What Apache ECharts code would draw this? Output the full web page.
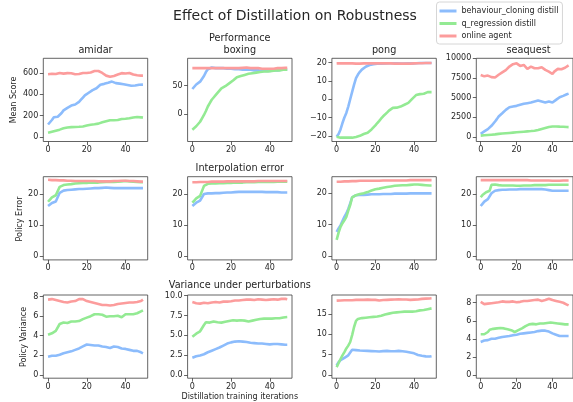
<!DOCTYPE html>
<html>
<head>
<meta charset="utf-8">
<script src="https://cdn.jsdelivr.net/npm/echarts@6/dist/echarts.min.js"></script>
<style>
html,body{margin:0;padding:0;background:#fff;}
#chart{width:573px;height:402px;}
</style>
</head>
<body>
<div id="chart"></div>
<script>
// ---------- data ----------
const games = ['amidar', 'boxing', 'pong', 'seaquest'];
const seriesNames = ['behaviour_cloning distill', 'q_regression distill', 'online agent'];
const rowTitles = ['Performance', 'Interpolation error', 'Variance under perturbations'];
const rowYLabels = ['Mean Score', 'Policy Error', 'Policy Variance'];
const xLabel = 'Distillation training iterations';
const mainTitle = 'Effect of Distillation on Robustness';
const iterations = Array.from({length: 50}, (_, i) => i);
const xTicks = [0, 20, 40];

// Row 1: Mean Score
const amidarScoreBC = [118,130,160,185,190,190,200,225,250,262, 274,285,295,300,305,311,330,350,370,390, 404,415,428,440,450,457,475,490,495,498, 504,508,510,519,512,505,503,500,498,495, 491,488,485,480,482,482,486,490,490,491];
const amidarScoreQR = [40,45,50,55,60,65,70,78,82,86, 90,92,93,94,95,96,97,98,100,103, 108,112,116,118,120,122,126,132,138,140, 148,155,158,160,158,158,160,165,170,168, 172,172,176,180,183,185,188,190,185,182];
const amidarScoreOnline = [588,590,592,595,590,598,600,596,594,600, 598,595,597,590,588,592,590,595,600,598, 600,603,605,612,618,622,618,610,600,590, 575,568,565,568,572,575,585,590,598,600, 595,590,600,598,585,580,578,580,575,575];

const boxingScoreBC = [44,47,52,55,57,60,67,74,79,81, 82,81,81,81,81,81,81,81,80,80, 80,80,79,79,79,79,78,78,78,78, 78,77,77,77,77,77,76,76,76,76, 76,76,77,77,77,78,78,78,78,78];
const boxingScoreQR = [-28,-26,-22,-18,-14,-8,-2,5,13,19, 25,29,33,37,41,45,47,49,51,54, 57,59,62,65,66,67,68,69,70,71, 72,72,73,73,74,74,74,75,75,75, 76,76,76,77,77,77,78,78,78,78];
const boxingScoreOnline = [81,81,81,81,81,81,81,81,81,81, 81,81,81,81,81,81,81,81,81,81, 81,81,81,81,81,81,81.5,82,82,81.5, 81,81,81,81,81,80.5,80,80,80,80, 80,80,80,80.5,81,81,81,81.5,81.5,81.5];

const pongScoreBC = [-20.5,-19,-16.5,-13,-10,-7.5,-4,0,4,8, 11.5,13.5,15,16.2,17,17.8,18.3,18.7,19,19.2, 19.3,19.4,19.5,19.5,19.6,19.6,19.7,19.7,19.7,19.7, 19.6,19.6,19.5,19.5,19.5,19.5,19.6,19.6,19.6,19.6, 19.7,19.7,19.7,19.8,19.8,19.8,19.8,19.8,19.8,19.8];
const pongScoreQR = [-20.5,-20.8,-21,-21,-21,-21,-21,-21,-21,-20.8, -20.6,-20.3,-20,-19.6,-19,-18.5,-18.3,-17.5,-16.5,-15.5, -14.3,-13,-11.8,-10.5,-9.3,-8.3,-7.3,-6.2,-5.2,-4.7, -4.5,-4.6,-4.4,-4,-3.5,-3,-2.5,-2,-1,0.2, 1.2,2.3,3.2,2.8,2.6,3,3.3,3.9,4.2,3.9];
const pongScoreOnline = [19.6,19.7,19.7,19.6,19.6,19.6,19.6,19.6,19.6,19.5, 19.5,19.5,19.5,19.6,19.6,19.6,19.6,19.6,19.6,19.6, 19.6,19.6,19.6,19.6,19.6,19.6,19.6,19.6,19.6,19.6, 19.5,19.5,19.5,19.5,19.5,19.5,19.5,19.5,19.5,19.6, 19.6,19.7,19.7,19.7,19.7,19.8,19.8,19.8,19.8,19.8];

const seaquestScoreBC = [380,520,680,820,970,1150,1400,1650,1950,2250, 2580,2800,3000,3200,3430,3600,3770,3820,3860,3900, 3940,4000,4070,4120,4200,4250,4280,4320,4360,4420, 4490,4560,4620,4560,4490,4420,4360,4420,4490,4420, 4360,4500,4700,4880,5040,5130,5210,5320,5420,5500];
const seaquestScoreQR = [150,170,190,210,230,250,270,290,310,340, 370,390,410,430,450,470,490,510,530,550, 570,590,610,630,650,670,690,710,730,750, 780,820,870,940,1000,1060,1130,1200,1250,1300, 1320,1330,1320,1300,1290,1300,1280,1250,1240,1230];
const seaquestScoreOnline = [7880,7670,7700,7750,7800,7750,7600,7460,7550,7750, 7900,8090,8200,8300,8500,8730,8950,9150,9250,9280, 9360,9200,9030,9100,9150,8900,8640,8800,8940,8850, 8730,8700,8730,8800,8860,8700,8520,8400,8300,8150, 8000,8300,8520,8650,8730,8600,8520,8800,9030,9100];

// Row 2: Policy Error
const amidarErrorBC = [16.2,16.8,17.2,17.5,17.7,18.0,20.5,21.1,21.2,21.3, 21.4,21.4,21.5,21.5,21.6,21.6,21.7,21.7,21.7,21.8, 21.8,21.8,21.9,21.9,22.0,22.0,22.0,22.0,22.1,22.1, 22.2,22.2,22.1,22.1,22.0,22.0,22.0,22.0,22.0,22.0, 22.0,22.0,22.0,22.0,22.0,22.0,22.0,22.0,22.0,22.0];
const amidarErrorQR = [17.6,18.3,19.0,19.4,19.7,19.9,22.4,22.8,23.0,23.1, 23.2,23.2,23.3,23.4,23.5,23.6,23.6,23.6,23.7,23.7, 23.7,23.8,23.8,23.8,23.8,23.8,23.8,23.9,23.9,23.9, 24.0,24.0,24.0,24.0,24.0,24.0,24.1,24.1,24.2,24.3, 24.3,24.3,24.2,24.2,24.1,24.0,24.0,23.9,23.9,23.9];
const amidarErrorOnline = [24.7,24.7,24.6,24.6,24.6,24.5,24.5,24.5,24.5,24.4, 24.4,24.4,24.4,24.3,24.3,24.3,24.3,24.3,24.3,24.3, 24.3,24.3,24.3,24.3,24.3,24.3,24.2,24.2,24.2,24.2, 24.2,24.2,24.2,24.2,24.3,24.3,24.3,24.3,24.4,24.4, 24.4,24.4,24.3,24.3,24.3,24.2,24.2,24.2,24.1,24.1];

const boxingErrorBC = [16.2,16.8,17.3,17.6,18.0,18.3,20.1,20.3,20.3,20.3, 20.3,20.3,20.4,20.4,20.4,20.5,20.5,20.5,20.6,20.6, 20.6,20.7,20.7,20.7,20.8,20.8,20.8,20.8,20.8,20.8, 20.8,20.8,20.8,20.8,20.8,20.8,20.8,20.7,20.7,20.7, 20.7,20.7,20.7,20.7,20.7,20.7,20.6,20.6,20.6,20.6];
const boxingErrorQR = [17.3,18.0,18.7,19.2,19.5,19.8,22.7,23.1,23.4,23.4, 23.5,23.5,23.5,23.6,23.6,23.6,23.6,23.7,23.7,23.7, 23.7,23.7,23.8,23.8,23.8,23.8,23.8,23.8,23.9,23.9, 23.9,23.9,23.9,23.9,24.0,24.0,24.0,24.0,24.0,24.0, 24.0,24.0,24.0,24.0,24.1,24.1,24.1,24.1,24.1,24.1];
const boxingErrorOnline = [23.9,23.9,23.9,23.9,24.0,24.0,24.0,24.0,24.0,24.1, 24.1,24.1,24.1,24.1,24.1,24.1,24.1,24.1,24.2,24.2, 24.2,24.2,24.2,24.2,24.2,24.2,24.2,24.2,24.2,24.2, 24.2,24.2,24.2,24.2,24.3,24.3,24.3,24.3,24.3,24.3, 24.3,24.3,24.3,24.3,24.3,24.3,24.3,24.3,24.3,24.3];

const pongErrorBC = [7.7,8.8,9.8,11.2,12.5,13.6,15.0,16.8,18.7,19.1, 19.4,19.4,19.5,19.5,19.5,19.6,19.6,19.6,19.7,19.7, 19.7,19.7,19.7,19.8,19.8,19.8,19.8,19.8,19.8,19.9, 19.9,19.9,19.9,19.9,19.9,19.9,19.9,19.9,20.0,20.0, 20.0,20.0,20.0,20.0,20.0,20.0,20.0,20.0,20.0,20.0];
const pongErrorQR = [5.2,7.5,9.3,10.5,11.4,12.5,14.5,16.3,18.7,19.0, 19.4,19.6,19.8,19.9,20.0,20.2,20.4,20.6,20.9,21.1, 21.3,21.4,21.5,21.6,21.8,21.9,22.0,22.1,22.2,22.3, 22.4,22.4,22.5,22.5,22.6,22.6,22.6,22.7,22.7,22.8, 22.8,22.8,22.8,22.8,22.7,22.7,22.6,22.6,22.5,22.5];
const pongErrorOnline = [23.7,23.7,23.7,23.8,23.8,23.8,23.8,23.9,23.9,23.9, 23.9,23.9,24.0,24.0,24.0,24.0,24.0,24.0,24.0,24.0, 24.0,24.0,24.0,24.1,24.1,24.1,24.1,24.1,24.1,24.1, 24.1,24.1,24.1,24.1,24.1,24.1,24.1,24.2,24.2,24.2, 24.2,24.2,24.2,24.2,24.2,24.2,24.2,24.2,24.2,24.2];

const seaquestErrorBC = [16.1,16.8,17.5,17.9,18.3,18.6,20.2,20.6,21.0,21.1, 21.2,21.2,21.3,21.3,21.3,21.3,21.4,21.4,21.4,21.4, 21.4,21.5,21.5,21.5,21.5,21.5,21.5,21.5,21.5,21.5, 21.5,21.5,21.5,21.5,21.5,21.5,21.4,21.3,21.2,21.1, 21.0,21.0,21.0,21.0,21.0,21.0,21.0,21.0,21.0,21.0];
const seaquestErrorQR = [18.9,19.6,20.2,20.5,20.8,21.0,22.9,23.0,23.0,22.9, 22.8,22.8,22.7,22.7,22.7,22.7,22.7,22.7,22.7,22.6, 22.6,22.6,22.6,22.6,22.7,22.7,22.7,22.7,22.7,22.7, 22.8,22.8,22.8,22.8,22.8,22.8,22.8,22.8,22.9,22.9, 22.9,22.9,22.9,22.9,22.9,22.9,22.9,22.9,22.9,22.9];
const seaquestErrorOnline = [24.4,24.4,24.4,24.4,24.4,24.4,24.4,24.4,24.4,24.4, 24.4,24.4,24.4,24.4,24.4,24.4,24.4,24.4,24.4,24.4, 24.4,24.4,24.4,24.4,24.4,24.4,24.4,24.3,24.3,24.3, 24.3,24.3,24.3,24.3,24.3,24.3,24.3,24.3,24.3,24.2, 24.2,24.2,24.2,24.2,24.2,24.3,24.3,24.3,24.3,24.3];

// Row 3: Policy Variance
const amidarVarBC = [1.85,1.9,1.95,2.0,1.95,1.9,2.05,2.15,2.2,2.25, 2.3,2.35,2.4,2.45,2.55,2.6,2.7,2.8,2.9,3.0, 3.1,3.1,3.05,3.05,3.0,3.0,3.0,2.95,2.9,2.85, 2.85,2.8,2.75,2.8,2.9,2.9,2.85,2.75,2.7,2.7, 2.65,2.6,2.55,2.5,2.45,2.4,2.45,2.4,2.3,2.2];
const amidarVarQR = [4.1,4.2,4.25,4.35,4.5,4.65,5.2,5.35,5.35,5.3, 5.3,5.4,5.45,5.45,5.45,5.45,5.5,5.6,5.7,5.8, 5.85,5.9,6.0,6.1,6.2,6.25,6.2,6.2,6.15,6.0, 5.95,5.95,6.0,6.05,6.0,6.0,6.05,5.95,5.9,6.05, 6.2,6.2,6.2,6.2,6.2,6.25,6.3,6.4,6.5,6.6];
const amidarVarOnline = [7.7,7.8,7.75,7.7,7.65,7.6,7.55,7.5,7.45,7.4, 7.4,7.45,7.5,7.5,7.55,7.65,7.75,7.8,7.75,7.65, 7.55,7.5,7.45,7.4,7.35,7.3,7.25,7.2,7.15,7.15, 7.15,7.1,7.1,7.1,7.15,7.2,7.25,7.25,7.3,7.3, 7.35,7.4,7.4,7.4,7.4,7.45,7.45,7.5,7.55,7.7];

const boxingVarBC = [2.15,2.25,2.35,2.4,2.45,2.55,2.6,2.7,2.85,2.95, 3.05,3.15,3.25,3.35,3.45,3.55,3.7,3.85,3.95,4.0, 4.1,4.15,4.2,4.25,4.25,4.2,4.2,4.15,4.15,4.1, 4.05,4.05,4.0,4.0,3.95,3.95,3.95,3.9,3.9,3.9, 3.85,3.85,3.9,3.9,3.9,3.85,3.85,3.85,3.8,3.8];
const boxingVarQR = [4.8,5.0,5.2,5.35,5.5,5.75,6.3,6.65,6.6,6.6, 6.7,6.75,6.7,6.65,6.6,6.6,6.65,6.7,6.75,6.8, 6.85,6.9,6.9,6.85,6.85,6.9,6.9,6.85,6.8,6.75, 6.8,6.85,6.9,6.95,7.0,7.05,7.05,7.1,7.1,7.1, 7.1,7.1,7.15,7.15,7.15,7.15,7.2,7.25,7.3,7.3];
const boxingVarOnline = [9.2,9.1,9.05,9.0,9.0,9.05,9.1,9.1,9.05,9.1, 9.15,9.15,9.2,9.2,9.15,9.2,9.25,9.3,9.25,9.2, 9.3,9.35,9.4,9.35,9.4,9.4,9.45,9.5,9.5,9.55, 9.5,9.45,9.45,9.5,9.55,9.55,9.5,9.45,9.45,9.5, 9.5,9.5,9.55,9.55,9.5,9.55,9.6,9.6,9.6,9.55];

const pongVarBC = [2.3,3.1,3.6,3.9,4.2,4.4,4.8,5.5,6.2,6.2, 6.1,6.05,6.0,6.0,5.95,5.9,5.9,5.85,5.85,5.8, 5.8,5.8,5.75,5.8,5.85,5.9,5.9,5.85,5.8,5.8, 5.8,5.85,5.9,5.85,5.8,5.8,5.7,5.6,5.5,5.4, 5.3,5.1,4.9,4.8,4.7,4.6,4.55,4.5,4.5,4.6];
const pongVarQR = [1.9,2.9,3.9,4.8,5.6,6.5,7.2,8.1,9.8,11.8, 13.3,13.8,13.9,14.0,14.0,14.1,14.1,14.2,14.2,14.3, 14.3,14.4,14.5,14.6,14.7,14.9,15.0,15.1,15.2,15.3, 15.3,15.4,15.5,15.5,15.6,15.6,15.6,15.6,15.6,15.6, 15.6,15.7,15.8,15.9,16.0,16.0,16.1,16.2,16.3,16.4];
const pongVarOnline = [18.3,18.35,18.35,18.35,18.4,18.4,18.4,18.45,18.4,18.45, 18.5,18.5,18.5,18.45,18.5,18.5,18.55,18.5,18.5,18.55, 18.5,18.4,18.35,18.4,18.45,18.5,18.5,18.5,18.55,18.6, 18.6,18.6,18.65,18.6,18.6,18.65,18.6,18.55,18.5,18.5, 18.55,18.6,18.6,18.7,18.75,18.75,18.8,18.85,18.85,18.9];

const seaquestVarBC = [3.65,3.7,3.8,3.85,3.85,3.9,4.0,4.0,4.0,4.05, 4.1,4.1,4.2,4.2,4.25,4.3,4.3,4.35,4.4,4.45, 4.45,4.5,4.55,4.55,4.6,4.6,4.65,4.65,4.7,4.75, 4.75,4.8,4.85,4.9,4.9,4.95,4.9,4.85,4.8,4.7, 4.6,4.5,4.45,4.35,4.3,4.3,4.3,4.3,4.3,4.3];
const seaquestVarQR = [4.5,4.5,4.5,4.6,4.75,5.0,5.05,5.1,5.15,5.15, 5.15,5.2,5.2,5.15,5.1,5.05,5.0,4.95,4.85,4.75, 4.85,4.95,5.05,5.15,5.3,5.4,5.5,5.6,5.7,5.65, 5.6,5.6,5.65,5.7,5.7,5.7,5.75,5.75,5.8,5.8, 5.8,5.75,5.7,5.7,5.65,5.65,5.6,5.6,5.6,5.6];
const seaquestVarOnline = [8.1,8.0,7.85,7.85,7.9,7.95,7.95,7.95,8.0,8.05, 8.05,8.05,8.15,8.15,8.1,8.1,8.1,8.15,8.15,8.1, 8.05,8.1,8.1,8.15,8.2,8.2,8.2,8.2,8.25,8.25, 8.3,8.3,8.35,8.3,8.2,8.25,8.3,8.35,8.45,8.4, 8.3,8.25,8.2,8.15,8.1,8.05,8.0,7.95,7.8,7.7];

// y tick labels per panel
const scoreTicks = [[0,200,400,600],[0,50],[-20,-10,0,10,20],[0,2500,5000,7500,10000]];
const errorTicks = [[0,10,20],[0,10,20],[0,10,20],[0,10,20]];
const varTicks = [[0,2,4,6,8],[0,2.5,5,7.5,10],[0,5,10,15],[0,2,4,6,8]];

// ---------- layout / style ----------
const panelData = [
  [[amidarScoreBC,amidarScoreQR,amidarScoreOnline],[boxingScoreBC,boxingScoreQR,boxingScoreOnline],[pongScoreBC,pongScoreQR,pongScoreOnline],[seaquestScoreBC,seaquestScoreQR,seaquestScoreOnline]],
  [[amidarErrorBC,amidarErrorQR,amidarErrorOnline],[boxingErrorBC,boxingErrorQR,boxingErrorOnline],[pongErrorBC,pongErrorQR,pongErrorOnline],[seaquestErrorBC,seaquestErrorQR,seaquestErrorOnline]],
  [[amidarVarBC,amidarVarQR,amidarVarOnline],[boxingVarBC,boxingVarQR,boxingVarOnline],[pongVarBC,pongVarQR,pongVarOnline],[seaquestVarBC,seaquestVarQR,seaquestVarOnline]]
];
const panelTicks = [scoreTicks, errorTicks, varTicks];
const yRanges = [
  [[-41,737],[-49,98.4],[-23.1,22.4],[-600,10000]],
  [[-1.2,25.7],[-1.2,25.7],[-1.2,25.3],[-1.2,25.5]],
  [[-0.35,8.17],[-0.43,10.09],[-0.84,19.7],[-0.38,8.86]]
];
const colors = ['#8cbcfc', '#93ea93', '#fc9c9c'];
const colLeft = [43.3, 187.6, 331.9, 476.3];
const rowTop = [58.3, 176.7, 295];
const pw = 104.4, ph = 83.2;
const FONT = 'DejaVu Sans';
const TXT = '#262626';
const SPINE = '#3c3c3c';

const grids = [], xAxes = [], yAxes = [], series = [];
let idx = 0;
for (let r = 0; r < 3; r++) {
  for (let c = 0; c < 4; c++) {
    grids.push({left: colLeft[c], top: rowTop[r], width: pw, height: ph, show: true,
      borderColor: SPINE, borderWidth: 0.8, backgroundColor: 'transparent', containLabel: false});
    xAxes.push({type: 'value', gridIndex: idx, min: -2.45, max: 51.45, position: 'bottom',
      axisLine: {show: false, onZero: false}, splitLine: {show: false},
      axisTick: {show: true, length: 3.5, customValues: xTicks, lineStyle: {color: SPINE, width: 0.8}},
      axisLabel: {customValues: xTicks, margin: 4.5, fontSize: 8, fontFamily: FONT, color: TXT}});
    const ticks = panelTicks[r][c];
    const isBoxVar = (r === 2 && c === 1);
    yAxes.push({type: 'value', gridIndex: idx, min: yRanges[r][c][0], max: yRanges[r][c][1], position: 'left',
      axisLine: {show: false, onZero: false}, splitLine: {show: false},
      axisTick: {show: true, length: 3.5, customValues: ticks, lineStyle: {color: SPINE, width: 0.8}},
      axisLabel: {customValues: ticks, margin: 5, fontSize: 8, fontFamily: FONT, color: TXT,
        formatter: v => (isBoxVar ? Number(v).toFixed(1) : String(v)).replace('-', '\u2212')}});
    for (let s = 0; s < 3; s++) {
      series.push({type: 'line', name: seriesNames[s], xAxisIndex: idx, yAxisIndex: idx,
        data: panelData[r][c][s].map((v, i) => [iterations[i], v]),
        showSymbol: false, symbol: 'none', color: colors[s],
        lineStyle: {width: 2.6, color: colors[s]}, silent: true});
    }
    idx++;
  }
}

const colCenter = colLeft.map(l => l + pw / 2);
const graphics = [];
function txt(text, x, y, size, rot) {
  graphics.push({type: 'text', x: x, y: y, rotation: rot || 0, silent: true,
    style: {text: text, fontSize: size, fontFamily: FONT, fill: TXT, textAlign: 'center', textVerticalAlign: 'middle'}});
}
txt(mainTitle, 295, 16, 14);
games.forEach((g, c) => txt(g, colCenter[c], 50, 9.7));
txt(rowTitles[0], colCenter[1], 38, 9.7);
txt(rowTitles[1], colCenter[1], 168, 9.7);
txt(rowTitles[2], colCenter[1], 285.5, 9.7);
txt(rowYLabels[0], 14, 100, 8, Math.PI / 2);
txt(rowYLabels[1], 20, 219, 8, Math.PI / 2);
txt(rowYLabels[2], 23.5, 337, 8, Math.PI / 2);
txt(xLabel, colCenter[1], 397, 8);

const chart = echarts.init(document.getElementById('chart'), null, {renderer: 'canvas'});
chart.setOption({
  animation: false,
  backgroundColor: '#fff',
  grid: grids, xAxis: xAxes, yAxis: yAxes, series: series,
  legend: {data: seriesNames, orient: 'vertical', left: 436.5, top: 2, selectedMode: false,
    icon: 'rect', itemWidth: 17, itemHeight: 3, itemGap: 2.5,
    padding: [4, 4, 3, 3], backgroundColor: '#fff', borderColor: '#cccccc', borderWidth: 0.8, borderRadius: 3,
    textStyle: {fontSize: 8, fontFamily: FONT, color: TXT, lineHeight: 10}},
  graphic: graphics
});
</script>
</body>
</html>
